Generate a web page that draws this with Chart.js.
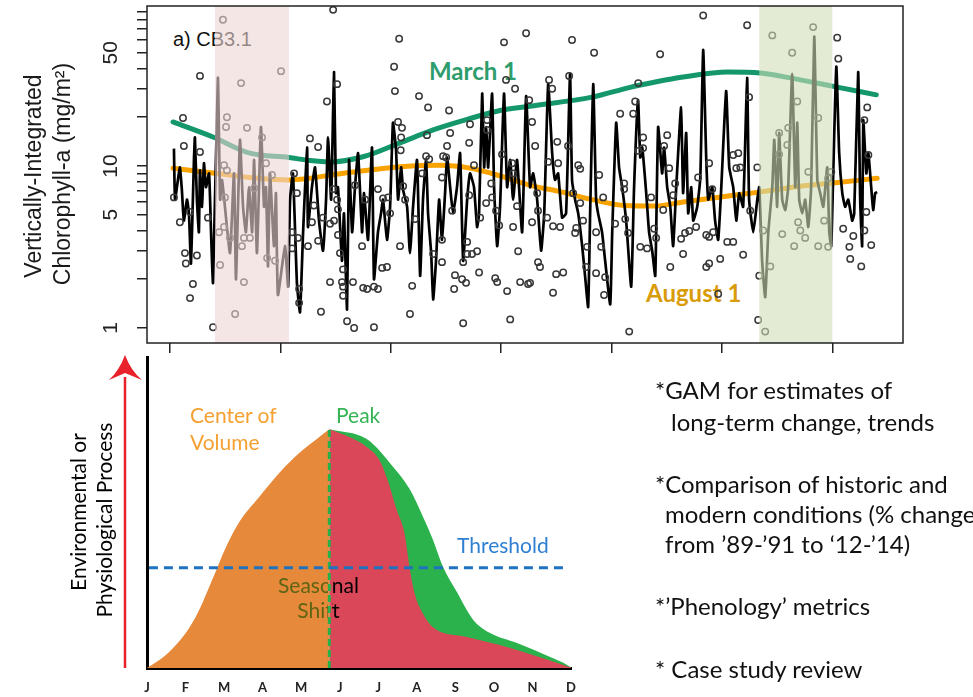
<!DOCTYPE html>
<html>
<head>
<meta charset="utf-8">
<script src="https://cdn.jsdelivr.net/npm/chart.js@4.4.1/dist/chart.umd.min.js"></script>
<style>
  html, body { margin: 0; padding: 0; background: #fff; }
  #wrap { position: relative; width: 973px; height: 697px; overflow: hidden; background: #fff; }
  canvas { position: absolute; left: 0; z-index: 1; }
  #topChart { top: 0; }
  #bottomChart { top: 340px; }
  .t { position: absolute; white-space: nowrap; line-height: 1; z-index: 2; }
  .under { z-index: 0; }
  .cal { font-family: Lato, "Open Sans", sans-serif; }
  .ari { font-family: "Liberation Sans", Arial, sans-serif; }
  .rot { transform: translate(-50%, -50%) rotate(-90deg); }
  .clip { position: absolute; overflow: hidden; height: 56px; z-index: 2; }
  .clip div { position: absolute; top: 0; width: 81px; text-align: center; line-height: 25px; font-size: 21px; white-space: nowrap; }
  .note { font-size: 24px; color: #111; }
</style>
</head>
<body>
<div id="wrap">
  <!-- labels that sit under the shaded bands -->
  <div class="t ari under" style="left:173px; top:29px; font-size:20px; color:#111">a) CB3.1</div>
  <div class="t cal under" style="left:429px; top:59px; font-size:24px; font-weight:bold; color:#2e9c6c">March 1</div>
  <div class="t cal under" style="left:646px; top:281px; font-size:24px; font-weight:bold; color:#d99b08">August 1</div>

  <canvas id="topChart" width="973" height="356"></canvas>
  <canvas id="bottomChart" width="973" height="357"></canvas>

  <!-- y axis title, top panel -->
  <div class="t ari rot" style="left:33px; top:176px; font-size:23px; color:#1a1a1a">Vertically-Integrated</div>
  <div class="t ari rot" style="left:62px; top:174px; font-size:23px; color:#1a1a1a">Chlorophyll-a (mg/m²)</div>

  <!-- bottom panel labels -->
  <div class="t cal rot" style="left:77px; top:512px; font-size:21px; color:#000">Environmental or</div>
  <div class="t cal rot" style="left:103px; top:520px; font-size:21px; color:#000">Physiological Process</div>
  <div class="t cal" style="left:190px; top:404px; font-size:21px; color:#f5a031">Center of</div>
  <div class="t cal" style="left:190px; top:431px; font-size:21px; color:#f5a031">Volume</div>
  <div class="t cal" style="left:336px; top:404px; font-size:21px; color:#35b455">Peak</div>
  <div class="t cal" style="left:457px; top:534px; font-size:21px; color:#2e7fd2">Threshold</div>
  <div class="clip cal" style="left:278px; top:572px; width:50px"><div style="left:0; color:#5e6414">Seasonal<br>Shift</div></div>
  <div class="clip cal" style="left:332px; top:572px; width:60px"><div style="left:-54px; color:#000">Seasonal<br>Shift</div></div>

  <!-- notes on the right -->
  <div class="t cal note" style="left:655px; top:378px">*GAM for estimates of</div>
  <div class="t cal note" style="left:671px; top:410px">long-term change, trends</div>
  <div class="t cal note" style="left:655px; top:472px">*Comparison of historic and</div>
  <div class="t cal note" style="left:665px; top:502px">modern conditions (% change</div>
  <div class="t cal note" style="left:665px; top:532px">from ’89-’91 to ‘12-’14)</div>
  <div class="t cal note" style="left:655px; top:594px">*’Phenology’ metrics</div>
  <div class="t cal note" style="left:655px; top:657px">* Case study review</div>
</div>

<script>
// ---- top panel: CB3.1 chlorophyll series ----
const xTickYears = [1985, 1990, 1995, 2000, 2005, 2010, 2015]
const yTickValues = [1, 2, 3, 4, 5, 6, 7, 8, 9, 10, 20, 30, 40, 50, 60, 70, 80, 90]
const yLabelValues = [1, 5, 10, 50]

// shaded comparison windows (years)
const shadeStart = [1987.04, 2011.69]
const shadeEnd   = [1990.39, 2015.0]

// fitted model line
const modelYears = [
  1985.18,1985.23,1985.36,1985.45,1985.54,1985.63,1985.77,1985.86,1985.95,1986.09,
  1986.13,1986.22,1986.31,1986.36,1986.45,1986.54,1986.63,1986.77,1986.86,1986.95,
  1987.17,1987.27,1987.36,1987.49,1987.72,1987.90,1987.99,1988.17,1988.31,1988.44,
  1988.58,1988.72,1988.81,1988.94,1989.12,1989.26,1989.35,1989.44,1989.53,1989.71,
  1989.80,1989.89,1990.21,1990.35,1990.44,1990.57,1990.75,1990.89,1991.03,1991.21,
  1991.25,1991.43,1991.57,1991.75,1991.93,1992.07,1992.16,1992.30,1992.43,1992.52,
  1992.61,1992.79,1992.88,1993.02,1993.11,1993.25,1993.38,1993.52,1993.70,1993.79,
  1993.97,1994.15,1994.24,1994.42,1994.56,1994.65,1994.83,1994.97,1995.10,1995.24,
  1995.33,1995.47,1995.56,1995.74,1995.87,1996.01,1996.19,1996.33,1996.46,1996.60,
  1996.69,1996.83,1996.92,1997.05,1997.19,1997.32,1997.46,1997.55,1997.69,1997.82,
  1998.00,1998.14,1998.28,1998.46,1998.59,1998.77,1998.91,1999.00,1999.14,1999.23,
  1999.32,1999.41,1999.59,1999.68,1999.82,1999.95,2000.13,2000.27,2000.41,2000.54,
  2000.72,2000.95,2001.13,2001.31,2001.45,2001.63,2001.81,2001.95,2002.13,2002.31,
  2002.44,2002.58,2002.76,2002.94,2003.12,2003.21,2003.35,2003.49,2003.67,2003.80,
  2003.94,2004.03,2004.17,2004.30,2004.39,2004.57,2004.71,2004.94,2005.03,2005.21,
  2005.34,2005.48,2005.66,2005.89,2006.02,2006.20,2006.30,2006.39,2006.57,2006.70,
  2006.84,2006.98,2007.11,2007.29,2007.38,2007.52,2007.66,2007.79,2007.93,2008.15,
  2008.24,2008.38,2008.47,2008.61,2008.70,2008.88,2009.02,2009.15,2009.29,2009.38,
  2009.56,2009.69,2009.83,2009.97,2010.19,2010.33,2010.51,2010.65,2010.78,2010.96,
  2011.14,2011.23,2011.42,2011.60,2011.69,2011.82,2011.96,2012.10,2012.28,2012.37,
  2012.50,2012.59,2012.73,2012.87,2013.00,2013.18,2013.32,2013.41,2013.50,2013.64,
  2013.77,2013.91,2014.04,2014.18,2014.32,2014.45,2014.59,2014.77,2014.86,2014.95,
  2015.04,2015.18,2015.31,2015.45,2015.58,2015.72,2015.90,2015.99,2016.17,2016.26,
  2016.35,2016.40,2016.54,2016.63,2016.76,2016.85,2016.94,2017.03,
]
const modelValues = [
  12.8,6.2,8.2,9.8,7.1,4.6,6.2,5.1,2.5,11.3,
  15,6.2,3.9,9.4,5.6,10.4,7.4,9.0,3.9,1.9,
  35,6.2,8.2,5.6,2.9,9.0,2.0,14.5,5.6,3.9,
  7.4,3.9,10.9,2.9,17.4,5.6,7.4,2.4,9.0,3.2,
  6.8,1.6,3.2,1.8,6.2,9.0,1.9,1.25,3.9,13,
  4.2,7.4,9.8,4.6,3.0,6.2,15,6.2,38,6.8,
  7.4,2.6,5.1,1.3,10.9,3.9,7.4,12,3.9,6.8,
  3.5,13,2.0,3.9,5.1,6.2,3.5,5.6,18.5,12.5,
  6.2,9.8,7.1,5.6,2.9,5.6,10.9,2.1,6.2,10.9,
  5.1,2.9,1.5,2.6,6.2,3.5,6.8,11.3,7.4,5.1,
  7.4,12,2.6,6.2,9.0,7.4,4.2,5.1,28,9.8,
  17.4,9.8,28,7.4,3.2,5.6,28,7.4,10.9,6.2,
  10.9,3.9,27,7.4,9.0,6.2,3.0,5.1,32,12,
  8.2,9.0,4.8,5.1,37,8.2,6.2,5.1,3.2,2.1,
  1.35,5.1,32,6.2,5.1,3.9,2.6,1.4,3.9,18.5,
  9.8,7.4,4.6,1.8,7.4,25.5,11.3,13,6.8,3.9,
  3.0,2.1,17.4,9.0,13,7.4,5.6,3.2,7.4,23,
  6.8,16,5.1,7.4,4.6,5.6,8.5,52,10.9,6.2,
  7.4,4.6,3.5,7.4,29,9.8,7.4,4.6,6.8,5.6,
  35,6.2,3.9,6.2,7.4,2.6,1.55,3.9,7.4,14.5,
  5.6,16,6.2,5.35,7.4,37,7.4,18.5,6.2,5.1,
  6.2,4.2,7.4,63,8.2,6.8,5.6,9.8,3.9,3.2,
  9.0,41,12,6.8,5.6,6.2,4.6,5.1,38,6.2,
  3.2,19.2,9.0,12,7.4,5.35,6.8,6.9,
]

// observations [year, mg/m2]
const observations = [
  [1987.40,80],[1986.36,36],[1988.22,32.5],[1985.59,19.8],[1987.58,20],[1987.54,17.4],[1988.49,17.2],
  [1989.17,15],[1985.63,13.3],[1986.36,12.2],[1989.35,10.4],[1987.45,10.1],[1989.62,8.8],[1987.58,9.4],
  [1985.18,6.4],[1987.49,6.4],[1988.81,7.3],[1985.91,5.2],[1986.72,4.8],[1985.45,4.5],[1987.45,4.2],
  [1987.22,3.9],[1987.72,3.6],[1988.35,3.6],[1988.62,3.6],[1988.26,3.2],[1985.68,2.9],[1986.22,2.8],
  [1989.40,2.7],[1985.72,2.5],[1987.27,2.45],[1989.76,2.6],[1988.35,1.92],[1986.04,1.87],[1985.91,1.53],
  [1987.95,1.22],[1986.95,1.01],
  [1990.03,38.5],[1992.39,92],[1995.38,61],[1995.15,41],[1995.19,29],[1992.57,32],[1992.11,25],
  [1991.34,14.8],[1991.71,13.1],[1995.33,18.7],[1995.51,17.2],[1995.47,15],[1995.45,12.5],[1990.62,9.0],
  [1990.75,6.8],[1990.53,3.9],[1990.53,3.1],[1990.80,3.6],[1991.25,3.2],[1991.52,5.7],[1991.43,4.5],
  [1991.71,3.45],[1991.93,4.8],[1992.25,4.4],[1992.43,4.6],[1992.57,6.2],[1992.61,5.4],[1992.61,3.75],
  [1992.39,7.2],[1992.70,2.9],[1992.84,2.3],[1992.79,1.92],[1992.84,1.8],[1992.84,1.58],[1993.29,1.92],
  [1993.75,1.77],[1993.93,1.74],[1994.24,1.8],[1994.42,1.74],[1993.38,7.6],[1993.84,6.2],[1993.70,3.2],
  [1994.42,7.2],[1994.65,6.3],[1994.88,6.4],[1994.97,5.1],[1994.61,2.35],[1994.83,2.38],[1995.42,3.2],
  [1990.85,1.74],[1990.85,1.43],[1991.84,1.26],[1993.02,1.1],[1993.34,1.0],[1994.24,1.01],[1992.25,1.92],
  [2001.13,66],[2000.13,58],[1996.28,27],[1996.69,23],[1997.64,22],[2000.22,34],[2000.63,30],
  [1998.59,18.1],[1997.69,16],[1996.64,15.5],[1998.55,13.9],[1997.55,13.3],[1996.60,11.5],[1996.74,11.0],
  [1997.37,11.5],[1997.51,11.3],[1998.77,10.1],[1999.36,19.2],[1999.36,16.7],[2000.04,11.8],[2000.50,10.4],
  [2000.54,9.0],[1995.56,7.5],[1995.65,6.2],[1996.42,9],[1997.32,8.5],[1997.78,5.3],[1998.55,6.6],
  [1999.55,7.8],[1999.59,6.4],[1999.32,5.9],[1999.77,5.3],[1999.05,4.8],[1999.91,4.3],[2000.72,5.65],
  [2000.54,4.2],[1996.10,4.7],[1997.32,3.5],[1998.46,3.4],[1998.46,2.86],[1998.68,2.86],[1998.91,2.98],
  [1997.32,2.55],[1996.92,2.86],[1998.28,2.55],[1999.00,2.2],[1997.91,2.12],[1998.23,2.0],[1998.41,1.9],
  [1999.73,2.03],[1999.82,1.92],[2000.77,2.98],[2000.86,1.92],[2001.22,1.87],[2000.27,1.69],[1995.97,1.82],
  [1997.87,1.74],[1995.87,1.22],[1998.28,1.07],[2000.41,1.13],
  [2003.21,60],[2004.21,50],[2002.17,34],[2002.31,30],[2003.08,36],[2006.21,32.5],[2006.07,25],
  [2005.98,21],[2005.39,21],[2001.27,25.5],[2001.40,18.7],[2001.54,13.3],[2002.54,14.1],[2003.03,13.3],
  [2002.58,10.4],[2002.13,10.6],[2003.49,10.1],[2003.58,9.6],[2004.44,8.8],[2006.43,15],[2006.43,12.9],
  [2006.21,12.4],[2005.57,7.8],[2005.57,7.2],[2004.62,6.4],[2003.26,6.8],[2003.58,5.9],[2001.63,6.8],
  [2001.67,5.3],[2001.40,4.5],[2002.08,4.8],[2002.35,4.25],[2002.67,4.2],[2003.40,4.15],[2003.35,3.86],
  [2003.71,4.6],[2003.89,3.17],[2004.30,3.9],[2004.53,3.17],[2005.16,4.4],[2005.62,4.7],[2005.75,3.86],
  [2006.30,3.17],[2006.61,3.1],[2006.79,6.4],[2001.67,2.55],[2001.76,2.38],[2002.49,2.15],[2002.81,2.2],
  [2003.85,2.38],[2004.30,2.18],[2004.71,2.06],[2001.31,1.9],[2002.35,1.65],[2004.66,1.6],[2005.80,0.95],
  [2009.15,85],[2011.14,74],[2007.20,49],[2011.23,26.6],[2007.52,15.5],[2007.38,13.3],[2007.61,9.7],
  [2008.92,8.5],[2009.42,10.4],[2010.74,12],[2010.83,9.8],[2010.65,9.7],[2010.51,11.7],[2011.60,9.8],
  [2007.88,7.8],[2007.79,6.6],[2007.34,5.35],[2009.56,7.2],[2011.28,5.3],[2006.93,4.1],[2007.02,3.6],
  [2008.15,3.55],[2008.33,3.86],[2008.52,3.97],[2008.83,4.2],[2009.29,3.75],[2009.42,3.65],[2009.60,3.9],
  [2010.24,3.4],[2010.51,3.4],[2008.24,2.86],[2009.92,2.67],[2010.96,2.83],[2007.66,2.38],[2009.29,2.38],
  [2009.42,2.5],[2009.83,1.62],[2011.64,1.12],[2012.28,64],[2011.96,0.95],
  [2014.13,72],[2013.18,50],[2013.41,25],[2014.36,19.8],[2013.00,17.2],[2012.59,16],[2012.96,13.5],
  [2012.59,11.8],[2013.91,9.2],[2014.81,8.4],[2014.95,9.2],[2012.73,3.8],[2013.45,4.5],[2013.55,4.0],
  [2013.77,3.6],[2013.27,3.2],[2014.36,3.2],[2014.63,4.6],[2014.81,3.17],[2015.22,62],[2015.27,46],
  [2016.58,23],[2016.45,19.2],[2016.63,11.7],[2015.49,4.1],[2015.95,3.7],[2016.45,4.0],[2015.77,3.17],
  [2016.76,3.25],[2015.81,2.67],[2016.31,2.4],[2016.54,5.2],[2011.69,2.1],[2012.19,2.4],[2011.87,4.0],
]

// GAM seasonal estimates
const marchYears  = [1985.14,1986.95,1988.62,1990.39,1991.34,1992.25,1993.74,1995.42,1996.92,1998.46,1999.95,2001.31,2004.12,2005.84,2006.98,2008.24,2010.24,2011.73,2013.09,2015.04,2016.99]
const marchValues = [18.7,15.1,12.0,11.3,10.8,10.6,11.4,13.9,16.7,19.4,22,23.4,26.6,30.6,33,35.4,38,37.5,35,31,27.5]
const augustYears  = [1985.14,1987.13,1988.63,1990.39,1992.79,1995.42,1997.23,1998.59,1999.95,2001.31,2002.58,2004.12,2005.62,2006.98,2008.24,2009.78,2011.69,2013.55,2015.04,2017.03]
const augustValues = [9.7,9.0,8.5,8.2,9.0,9.9,10.1,9.7,8.7,7.6,7.0,6.2,5.7,5.66,6.0,6.4,6.9,7.5,7.85,8.4]

// ---- bottom panel: schematic ----
const monthLabels = ["J", "F", "M", "A", "M", "J", "J", "A", "S", "O", "N", "D"]
const riseMonths  = [0, 0.49, 1.01, 1.35, 1.69, 2.05, 2.39, 2.91, 3.43, 3.95, 4.47, 4.73]
const riseValues  = [0, 4.2, 11.3, 18.6, 28.3, 38.9, 46.9, 55, 62.7, 69.1, 74.3, 76.8]
const modernMonths = [4.73, 5.25, 5.70, 6.03, 6.24, 6.48, 6.68, 6.81, 6.94, 7.15, 7.41, 8.30, 9.15, 10.01, 10.90, 11.03]
const modernValues = [76.8, 74.3, 71.1, 66.9, 60.5, 50.8, 43.4, 32.5, 24.1, 17.7, 13.2, 9.97, 7.4, 4.2, 0.6, 0]
const historicMonths = [4.73, 5.70, 6.37, 6.81, 7.15, 7.41, 7.67, 8.04, 8.45, 8.89, 9.60, 10.46, 10.90, 11.03]
const historicValues = [76.8, 73.6, 64.9, 57.6, 48.9, 41.5, 32.8, 24.4, 15.7, 11.3, 8.0, 3.5, 1.0, 0]
const thresholdMonths = [0.05, 10.92]
const thresholdValues = [32.2, 32.2]
const peakMonths = [4.73, 4.73]
const peakValues = [0, 76.8]

const pairs = (xs, ys) => xs.map((x, i) => ({ x, y: ys[i] }))

// shading goes over everything drawn so far, so lines inside read as greyed out
const shadePlugin = {
  id: "shade",
  afterDatasetsDraw(chart) {
    const { ctx, chartArea: a, scales: { x } } = chart
    const fills = ["rgba(237,213,210,0.6)", "rgba(208,222,185,0.6)"]
    ctx.save()
    shadeStart.forEach((s, i) => {
      const x0 = x.getPixelForValue(s)
      const x1 = x.getPixelForValue(shadeEnd[i])
      ctx.fillStyle = fills[i]
      ctx.fillRect(x0, a.top, x1 - x0, a.bottom - a.top)
    })
    ctx.restore()
  },
  afterDraw(chart) {
    const { ctx, chartArea: a, scales: { y } } = chart
    ctx.save()
    ctx.strokeStyle = "#222"
    ctx.lineWidth = 1.5
    ctx.strokeRect(a.left, a.top, a.right - a.left, a.bottom - a.top)
    // R-style rotated tick labels
    ctx.fillStyle = "#222"
    ctx.font = '21px "Liberation Sans", Arial, sans-serif'
    ctx.textAlign = "center"
    ctx.textBaseline = "middle"
    yLabelValues.forEach((v) => {
      ctx.save()
      ctx.translate(a.left - 36, y.getPixelForValue(v))
      ctx.rotate(-Math.PI / 2)
      ctx.fillText(String(v), 0, 0)
      ctx.restore()
    })
    ctx.restore()
  },
}

new Chart(document.getElementById("topChart"), {
  type: "line",
  data: {
    datasets: [
      {
        label: "observed",
        data: observations.map(([x, y]) => ({ x, y })),
        showLine: false,
        pointRadius: 3.2,
        pointBorderWidth: 1.5,
        pointBorderColor: "#383838",
        pointBackgroundColor: "rgba(0,0,0,0)",
        order: 0,
      },
      {
        label: "model",
        data: pairs(modelYears, modelValues),
        borderColor: "#000",
        borderWidth: 2.7,
        pointRadius: 0,
        tension: 0.15,
        order: 1,
      },
      {
        label: "March 1",
        data: pairs(marchYears, marchValues),
        borderColor: "#13976b",
        borderWidth: 5,
        borderCapStyle: "round",
        pointRadius: 0,
        cubicInterpolationMode: "monotone",
        order: 2,
      },
      {
        label: "August 1",
        data: pairs(augustYears, augustValues),
        borderColor: "#f8a300",
        borderWidth: 5,
        borderCapStyle: "round",
        pointRadius: 0,
        cubicInterpolationMode: "monotone",
        order: 2,
      },
    ],
  },
  options: {
    responsive: false,
    animation: false,
    devicePixelRatio: 1,
    layout: { padding: { left: 137, right: 70, top: 6, bottom: 3 } },
    plugins: { legend: { display: false }, tooltip: { enabled: false } },
    scales: {
      x: {
        type: "linear",
        min: 1983.96,
        max: 2018.2,
        afterBuildTicks: (s) => { s.ticks = xTickYears.map((v) => ({ value: v })) },
        afterFit: (s) => { s.height = 10 },
        ticks: { display: false },
        grid: { drawOnChartArea: false, tickLength: 10, color: "#222", lineWidth: 1.5 },
        border: { display: false },
      },
      y: {
        type: "logarithmic",
        min: 0.808,
        max: 97.2,
        afterBuildTicks: (s) => { s.ticks = yTickValues.map((v) => ({ value: v })) },
        afterFit: (s) => { s.width = 10 },
        ticks: { display: false },
        grid: { drawOnChartArea: false, tickLength: 10, color: "#222", lineWidth: 1.5 },
        border: { display: false },
      },
    },
  },
  plugins: [shadePlugin],
})

// red "increasing" arrow beside the schematic
const arrowPlugin = {
  id: "arrow",
  afterDraw(chart) {
    const { ctx, chartArea: a } = chart
    const x = a.left - 22
    ctx.save()
    ctx.strokeStyle = "#e8212b"
    ctx.fillStyle = "#e8212b"
    ctx.lineWidth = 2.5
    ctx.beginPath()
    ctx.moveTo(x, a.bottom)
    ctx.lineTo(x, a.top + 20)
    ctx.stroke()
    ctx.beginPath()
    ctx.moveTo(x, a.top - 2)
    ctx.quadraticCurveTo(x + 6, a.top + 14, x + 17, a.top + 23)
    ctx.lineTo(x, a.top + 16)
    ctx.lineTo(x - 16, a.top + 23)
    ctx.quadraticCurveTo(x - 6, a.top + 14, x, a.top - 2)
    ctx.fill()
    ctx.restore()
  },
}

new Chart(document.getElementById("bottomChart"), {
  type: "line",
  data: {
    datasets: [
      {
        label: "historic decline",
        data: pairs(historicMonths, historicValues),
        fill: "origin",
        backgroundColor: "#2bb24c",
        borderWidth: 0,
        pointRadius: 0,
        cubicInterpolationMode: "monotone",
        order: 5,
      },
      {
        label: "modern decline",
        data: pairs(modernMonths, modernValues),
        fill: "origin",
        backgroundColor: "#d94759",
        borderWidth: 0,
        pointRadius: 0,
        cubicInterpolationMode: "monotone",
        order: 4,
      },
      {
        label: "rise",
        data: pairs(riseMonths, riseValues),
        fill: "origin",
        backgroundColor: "#e6893a",
        borderWidth: 0,
        pointRadius: 0,
        cubicInterpolationMode: "monotone",
        order: 3,
      },
      {
        label: "peak",
        data: pairs(peakMonths, peakValues),
        borderColor: "#27b04a",
        borderWidth: 3,
        borderDash: [7, 4],
        pointRadius: 0,
        order: 2,
      },
      {
        label: "threshold",
        data: pairs(thresholdMonths, thresholdValues),
        borderColor: "#1f72c0",
        borderWidth: 3,
        borderDash: [9, 6],
        pointRadius: 0,
        order: 1,
      },
    ],
  },
  options: {
    responsive: false,
    animation: false,
    devicePixelRatio: 1,
    layout: { padding: { left: 147, right: 402, top: 17, bottom: 0 } },
    plugins: { legend: { display: false }, tooltip: { enabled: false } },
    scales: {
      x: {
        type: "linear",
        min: 0,
        max: 11,
        afterBuildTicks: (s) => { s.ticks = monthLabels.map((_, i) => ({ value: i })) },
        afterFit: (s) => { s.height = 29 },
        ticks: {
          callback: (v) => monthLabels[v],
          autoSkip: false,
          maxRotation: 0,
          padding: 12,
          color: "#222",
          font: { family: "Lato", weight: "bold", size: 13 },
        },
        grid: { display: false, drawTicks: false },
        border: { display: true, color: "#000", width: 3 },
      },
      y: {
        min: 0,
        max: 100,
        afterFit: (s) => { s.width = 0 },
        ticks: { display: false },
        grid: { display: false, drawTicks: false },
        border: { display: true, color: "#000", width: 3 },
      },
    },
  },
  plugins: [arrowPlugin],
})
</script>
</body>
</html>
